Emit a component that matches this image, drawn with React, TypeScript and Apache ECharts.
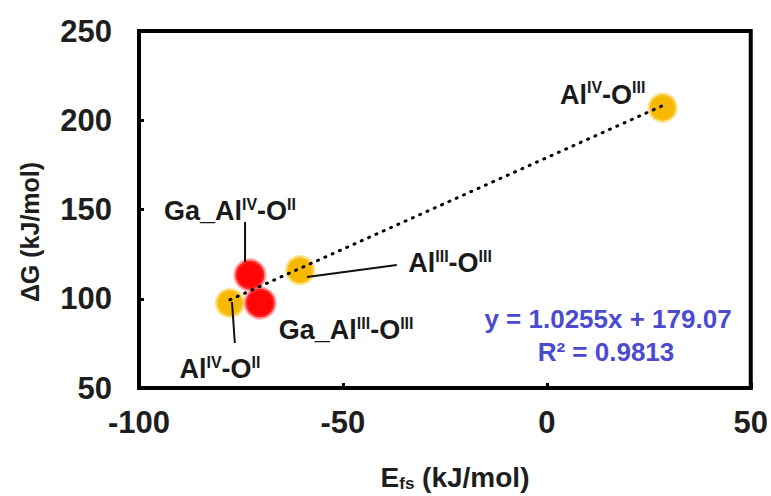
import React, { useEffect, useRef } from "react";
import * as echarts from "echarts";

const FONT = '"Liberation Sans", Arial, sans-serif';

// Al-site points (orange)
const alNames = ["Al^{IV}-O^{II}", "Al^{III}-O^{III}", "Al^{IV}-O^{III}"];
const alEfs = [-77.7, -60.5, 28.4];
const alDG = [97.6, 116.0, 207.0];

// Ga-substituted points (red)
const gaNames = ["Ga_Al^{IV}-O^{II}", "Ga_Al^{III}-O^{III}"];
const gaEfs = [-72.8, -70.3];
const gaDG = [113.3, 97.6];

// trend line end points
const trendEfs = [-77.7, 28.4];
const trendDG = [99.4, 208.2];

// leader lines (data units)
const leaderEfs = [
  [-77.2, -76.5],
  [-74.0, -74.0],
  [-58.8, -36.8],
];
const leaderDG = [
  [98.2, 75.2],
  [120.6, 143.0],
  [112.2, 118.9],
];

const xMin = -100;
const xMax = 50;
const xStep = 50;
const yMin = 50;
const yMax = 250;
const yStep = 50;

const equationText = "y = 1.0255x + 179.07";
const r2Text = "R² = 0.9813";

// label offsets (pixels) — styling only
const alOffsets = [
  [-10, 66],
  [150, -7],
  [-60, -13],
];
const gaOffsets = [
  [-20, -64],
  [86, 27],
];

const richLabel = {
  b: {
    fontSize: 27,
    fontWeight: "bold",
    fontFamily: FONT,
    color: "#1a1a1a",
    lineHeight: 30,
    verticalAlign: "middle",
  },
  s: {
    fontSize: 16,
    fontWeight: "bold",
    fontFamily: FONT,
    color: "#1a1a1a",
    lineHeight: 18,
    verticalAlign: "top",
  },
};

function toRich(name: string): string {
  const parts = name.split(/\^\{([^}]*)\}/);
  return parts
    .map((p, i) => (p === "" ? "" : i % 2 === 0 ? `{b|${p}}` : `{s|${p}}`))
    .join("");
}

export default function App() {
  const ref = useRef<HTMLDivElement>(null);

  useEffect(() => {
    if (!ref.current) return;
    const chart = echarts.init(ref.current, null, { renderer: "svg" });

    const alData = alEfs.map((x, i) => ({
      value: [x, alDG[i]],
      name: alNames[i],
      label: { offset: alOffsets[i] },
    }));
    const gaData = gaEfs.map((x, i) => ({
      value: [x, gaDG[i]],
      name: gaNames[i],
      label: { offset: gaOffsets[i] },
    }));

    const labelCfg = {
      show: true,
      position: "inside",
      formatter: (p: any) => toRich(p.name),
      rich: richLabel,
    };

    const leaderSeries = leaderEfs.map((xs, i) => ({
      type: "line",
      data: xs.map((x, j) => [x, leaderDG[i][j]]),
      symbol: "none",
      silent: true,
      z: 4,
      lineStyle: { color: "#111", width: 2 },
    }));

    const axisCommon = {
      type: "value",
      splitLine: { show: false },
      axisLine: { show: true, onZero: false, lineStyle: { color: "#000", width: 4 } },
      axisTick: { show: true, inside: true, length: 5, lineStyle: { color: "#000", width: 3 } },
    };

    const option: any = {
      animation: false,
      grid: {
        left: 139,
        right: 19,
        top: 31,
        bottom: 108,
        show: true,
        borderColor: "#000",
        borderWidth: 4,
        backgroundColor: "transparent",
      },
      xAxis: {
        ...axisCommon,
        min: xMin,
        max: xMax,
        interval: xStep,
        axisLabel: {
          fontSize: 31,
          fontWeight: "bold",
          fontFamily: FONT,
          color: "#1e1e1e",
          margin: 19,
        },
      },
      yAxis: {
        ...axisCommon,
        min: yMin,
        max: yMax,
        interval: yStep,
        axisLabel: {
          fontSize: 31,
          fontWeight: "bold",
          fontFamily: FONT,
          color: "#1e1e1e",
          margin: 27,
        },
      },
      series: [
        {
          type: "scatter",
          data: alData,
          symbol: "circle",
          symbolSize: 26,
          z: 2,
          silent: true,
          itemStyle: {
            color: "#F6B800",
            borderColor: "rgba(250,198,40,0.55)",
            borderWidth: 4,
            opacity: 1,
          },
          label: labelCfg,
        },
        {
          type: "scatter",
          data: gaData,
          symbol: "circle",
          symbolSize: 29,
          z: 2,
          silent: true,
          itemStyle: {
            color: "#FF0505",
            borderColor: "rgba(255,70,70,0.5)",
            borderWidth: 4,
            opacity: 1,
          },
          label: labelCfg,
        },
        {
          type: "line",
          data: trendEfs.map((x, i) => [x, trendDG[i]]),
          symbol: "none",
          silent: true,
          z: 3,
          lineStyle: { color: "#000", width: 3, type: [1, 7], cap: "round" },
        },
        ...leaderSeries,
      ],
      graphic: [
        {
          type: "text",
          x: 608,
          y: 319,
          style: {
            text: equationText,
            fontSize: 26,
            fontWeight: "bold",
            fontFamily: FONT,
            fill: "#4b4bd0",
            align: "center",
            verticalAlign: "middle",
            textAlign: "center",
            textVerticalAlign: "middle",
          },
        },
        {
          type: "text",
          x: 606,
          y: 352,
          style: {
            text: r2Text,
            fontSize: 26,
            fontWeight: "bold",
            fontFamily: FONT,
            fill: "#4b4bd0",
            align: "center",
            verticalAlign: "middle",
            textAlign: "center",
            textVerticalAlign: "middle",
          },
        },
        {
          type: "text",
          x: 455,
          y: 477,
          style: {
            text: "{b|E}{s|fs}{b| (kJ/mol)}",
            rich: {
              b: { fontSize: 28, fontWeight: "bold", fontFamily: FONT, fill: "#1e1e1e", color: "#1e1e1e", lineHeight: 30, verticalAlign: "middle" },
              s: { fontSize: 17, fontWeight: "bold", fontFamily: FONT, fill: "#1e1e1e", color: "#1e1e1e", lineHeight: 16, verticalAlign: "bottom" },
            },
            align: "center",
            verticalAlign: "middle",
            textAlign: "center",
            textVerticalAlign: "middle",
          },
        },
        {
          type: "text",
          x: 30,
          y: 232,
          rotation: Math.PI / 2,
          style: {
            text: "ΔG (kJ/mol)",
            fontSize: 25,
            fontWeight: "bold",
            fontFamily: FONT,
            fill: "#1e1e1e",
            align: "center",
            verticalAlign: "middle",
            textAlign: "center",
            textVerticalAlign: "middle",
          },
        },
      ],
    };

    chart.setOption(option);
    return () => chart.dispose();
  }, []);

  return (
    <div
      ref={ref}
      style={{ position: "fixed", left: 0, top: 0, width: "771px", height: "496px", background: "#fff" }}
    />
  );
}
